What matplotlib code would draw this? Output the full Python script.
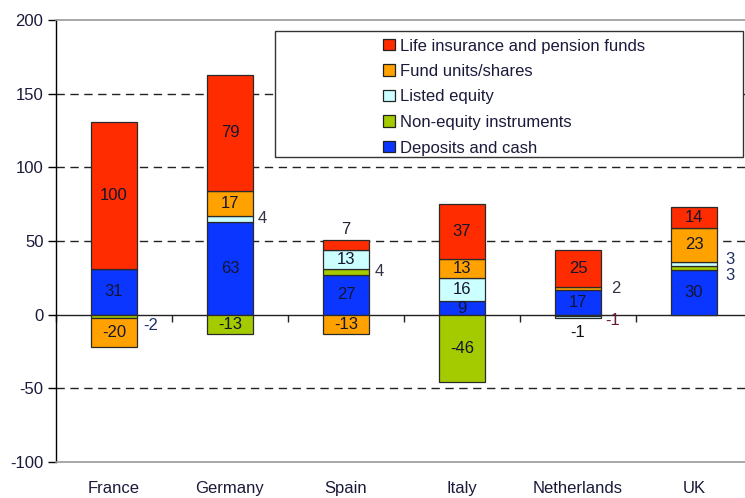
import matplotlib
matplotlib.use("Agg")
import matplotlib.pyplot as plt
from matplotlib.patches import Rectangle, Patch
import numpy as np

plt.rcParams['font.family'] = ['Liberation Sans', 'DejaVu Sans']
plt.rcParams['axes.unicode_minus'] = False

# ---- data ----
countries = ['France', 'Germany', 'Spain', 'Italy', 'Netherlands', 'UK']
deposits = [31, 63, 27, 9, 17, 30]
non_equity = [-2, -13, 4, -46, -1, 3]
listed_equity = [0, 4, 13, 16, -1, 3]
fund_units = [-20, 17, -13, 13, 2, 23]
life_insurance = [100, 79, 7, 37, 25, 14]

series_names = ['Deposits and cash', 'Non-equity instruments', 'Listed equity',
                'Fund units/shares', 'Life insurance and pension funds']
series_values = [deposits, non_equity, listed_equity, fund_units, life_insurance]
series_colors = ['#0A36FF', '#A4CA00', '#CCFFFF', '#FFA200', '#FF2C00']

yticks = [-100, -50, 0, 50, 100, 150, 200]

FS = 12

# label placement for small segments: (country, series) -> (dx pt, dy pt, ha, anchor, color)
outside = {
    (0, 1): (4, -6.5, 'left', 'right', '#1F2F66'),
    (1, 2): (3, 0, 'left', 'right', '#333344'),
    (2, 4): (0, 7, 'center', 'top', '#222233'),
    (2, 1): (4, 0, 'left', 'right', '#333344'),
    (4, 3): (7, 0, 'left', 'right', '#333344'),
    (4, 2): (3, -2.5, 'left', 'right', '#6B1A3A'),
    (4, 1): (0, -12, 'center', 'bottom', '#111111'),
    (5, 1): (6, -5, 'left', 'right', '#1F2F66'),
    (5, 2): (6, 3, 'left', 'right', '#1F2F66'),
}

fig = plt.figure(figsize=(7.45, 4.98), dpi=100)
ax = fig.add_axes([56 / 745, 36 / 498, 1 - 56 / 745, 442 / 498])

x = np.arange(len(countries))
width = 0.40
pos_base = np.zeros(len(countries))
neg_base = np.zeros(len(countries))

for si, (name, vals, col) in enumerate(zip(series_names, series_values, series_colors)):
    vals = np.array(vals, dtype=float)
    bottoms = np.where(vals >= 0, pos_base, neg_base)
    ax.bar(x, vals, width, bottom=bottoms, color=col, edgecolor='#2a2a2a',
           linewidth=0.9, zorder=3, label=name)
    for ci, v in enumerate(vals):
        if v == 0:
            continue
        center = bottoms[ci] + v / 2
        key = (ci, si)
        if key in outside:
            dx, dy, ha, anchor, tc = outside[key]
            if anchor == 'right':
                xa = x[ci] + width / 2
                ya = center
            elif anchor == 'top':
                xa = x[ci]
                ya = pos_base[ci] + v
            else:
                xa = x[ci]
                ya = neg_base[ci] + v
            ax.annotate(f'{int(v)}', (xa, ya), xytext=(dx, dy), textcoords='offset points',
                        ha=ha, va='center', fontsize=FS, color=tc, zorder=5)
        else:
            ax.text(x[ci], center, f'{int(v)}', ha='center', va='center',
                    fontsize=FS, color='#151530', zorder=5)
    pos_base = pos_base + np.where(vals >= 0, vals, 0)
    neg_base = neg_base + np.where(vals < 0, vals, 0)

ax.set_xlim(-0.5, 5.5 - 7 / 116)
ax.set_ylim(-100, 200)

# gridlines
for yv in yticks:
    if yv in (50, 100, 150, -50):
        ax.axhline(yv, color='#222222', linewidth=1.0, linestyle=(0, (6, 4)), zorder=1)

ax.set_yticks(yticks)
ax.tick_params(axis='y', direction='out', length=6, width=1, colors='black',
               labelsize=FS, labelcolor='#1a1a3a', pad=3)
ax.spines['right'].set_visible(False)
ax.spines['left'].set_color('black')
ax.spines['left'].set_linewidth(1.0)
ax.spines['top'].set_color('#999999')
ax.spines['bottom'].set_color('#999999')
ax.spines['top'].set_linewidth(1.2)
ax.spines['bottom'].set_linewidth(1.2)

# category labels at bottom
ax.set_xticks(x)
ax.set_xticklabels(countries)
ax.tick_params(axis='x', length=0, labelsize=FS, labelcolor='#1a1a3a', pad=14)

# zero axis with category separators
sec = ax.secondary_xaxis(1 / 3)
sec.set_xticks(np.arange(len(countries) + 1) - 0.5)
sec.set_xticklabels([])
sec.tick_params(axis='x', direction='out', length=5, width=1, colors='#222222')
sec.spines['bottom'].set_color('#222222')
sec.spines['bottom'].set_linewidth(1.0)

# legend box
rect = Rectangle((275 / 745, 1 - 157 / 498), (743 - 275) / 745, (157 - 31) / 498,
                 transform=fig.transFigure, facecolor='white', edgecolor='#333333',
                 linewidth=1.0, zorder=4, clip_on=False)
ax.add_patch(rect)

handles = [Patch(facecolor=c, edgecolor='#222222', linewidth=0.9)
           for c in series_colors[::-1]]
leg = ax.legend(handles, series_names[::-1], loc='upper left',
                bbox_to_anchor=(383 / 745, 1 - 38.5 / 498), bbox_transform=fig.transFigure,
                frameon=False, fontsize=FS, handlelength=0.7, handleheight=0.7,
                handletextpad=0.3, labelspacing=0.63, borderpad=0, borderaxespad=0)
leg.set_zorder(6)
for t in leg.get_texts():
    t.set_color('#1a1a3a')

fig.savefig('out.png', dpi=100)
